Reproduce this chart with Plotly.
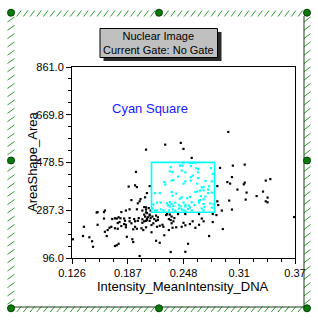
import plotly.graph_objects as go

# ---------------- data ----------------
other_x = [0.297, 0.228, 0.245, 0.207, 0.248, 0.257, 0.288, 0.302, 0.315, 0.301,
           0.296, 0.299, 0.315, 0.314, 0.307, 0.338, 0.343, 0.285, 0.317, 0.335,
           0.328, 0.340, 0.338, 0.340, 0.316, 0.298, 0.286, 0.301, 0.290, 0.284,
           0.280, 0.268, 0.270, 0.265, 0.261, 0.248, 0.250, 0.240, 0.235, 0.236,
           0.291, 0.369, 0.211,
           0.196, 0.188, 0.195, 0.197, 0.206, 0.201, 0.200, 0.191, 0.198, 0.205,
           0.207, 0.203, 0.207, 0.205, 0.207, 0.189, 0.185, 0.180, 0.162, 0.161,
           0.154, 0.153,
           0.127, 0.139, 0.138, 0.145, 0.148, 0.149, 0.154, 0.161, 0.165, 0.162,
           0.167, 0.169, 0.164, 0.170, 0.173, 0.175, 0.177, 0.179, 0.183, 0.184,
           0.176, 0.178, 0.180, 0.183, 0.185, 0.173, 0.176, 0.185, 0.189, 0.191,
           0.189, 0.194, 0.195, 0.199, 0.198, 0.203, 0.205, 0.203, 0.206, 0.208,
           0.207, 0.195, 0.193, 0.197, 0.202, 0.204, 0.207, 0.186, 0.192, 0.193,
           0.177, 0.175, 0.173, 0.200,
           0.209, 0.211, 0.212, 0.214, 0.216, 0.218, 0.220, 0.208, 0.211, 0.218,
           0.220, 0.229, 0.232, 0.234, 0.235, 0.238, 0.237, 0.213, 0.222, 0.225,
           0.226, 0.232, 0.246, 0.255, 0.258, 0.280, 0.213, 0.227, 0.218, 0.222,
           0.253, 0.276, 0.234, 0.250,
           0.208, 0.210, 0.212, 0.208, 0.211, 0.230, 0.233, 0.242, 0.250, 0.265,
           0.285, 0.215, 0.219, 0.197]
other_y = [601, 550, 557, 530, 533, 497, 457, 466, 470, 420,
           400, 394, 398, 391, 370, 406, 412, 384, 358, 362,
           344, 338, 323, 319, 330, 326, 308, 290, 286, 268,
           272, 254, 243, 229, 217, 237, 227, 219, 235, 217,
           212, 260, 384,
           441, 382, 387, 380, 339, 332, 323, 328, 315, 300,
           299, 286, 279, 270, 290, 291, 286, 280, 286, 280,
           280, 278,
           171, 221, 184, 179, 163, 141, 229, 254, 208, 201,
           217, 221, 184, 252, 255, 254, 259, 255, 254, 245,
           236, 240, 224, 232, 229, 215, 213, 219, 243, 235,
           256, 252, 243, 256, 245, 251, 243, 237, 262, 254,
           245, 221, 211, 213, 215, 208, 219, 181, 171, 160,
           153, 147, 144, 104,
           259, 266, 256, 262, 252, 266, 259, 248, 245, 245,
           248, 268, 252, 248, 262, 256, 243, 228, 225, 229,
           221, 208, 221, 232, 243, 240, 199, 187, 165, 157,
           153, 184, 120, 121,
           356, 296, 286, 276, 270, 272, 270, 272, 272, 272,
           323, 235, 221, 291]

gate_x_pts = [0.248, 0.255, 0.258, 0.261, 0.244, 0.247, 0.256, 0.278, 0.264, 0.234,
              0.233, 0.236, 0.246, 0.250, 0.264, 0.262, 0.242, 0.258, 0.235, 0.237,
              0.250, 0.256, 0.263, 0.279, 0.228, 0.268, 0.270, 0.275, 0.261, 0.263,
              0.275, 0.217, 0.222, 0.235, 0.240, 0.236, 0.255, 0.252, 0.267, 0.272,
              0.244, 0.266, 0.270, 0.219, 0.223, 0.230, 0.233, 0.235, 0.239, 0.248,
              0.250, 0.257, 0.265, 0.277, 0.281, 0.215, 0.231, 0.233, 0.243, 0.245,
              0.254, 0.271, 0.214, 0.217, 0.223, 0.226, 0.236, 0.239, 0.243, 0.248,
              0.250, 0.255, 0.257, 0.268, 0.270,
              0.279, 0.260, 0.253, 0.246, 0.279, 0.227, 0.265, 0.270, 0.250, 0.237,
              0.232, 0.219, 0.280, 0.248, 0.272, 0.276, 0.270, 0.266, 0.246, 0.256,
              0.264]
gate_y_pts = [478, 477, 477, 477, 466, 466, 464, 456, 452, 460,
              443, 440, 446, 439, 439, 456, 422, 426, 406, 408,
              403, 406, 394, 403, 390, 379, 380, 370, 360, 362,
              356, 356, 356, 360, 354, 346, 340, 335, 344, 342,
              334, 328, 331, 318, 318, 315, 320, 312, 318, 318,
              308, 319, 318, 315, 312, 310, 307, 302, 308, 303,
              306, 300, 294, 286, 291, 287, 291, 286, 294, 287,
              283, 299, 287, 294, 286,
              298, 308, 292, 291, 358, 400, 325, 312, 302, 304,
              287, 287, 433, 394, 404, 383, 367, 366, 339, 420,
              416]

gate_x = [0.213, 0.282]
gate_y = [279, 479]

x_range = [0.126, 0.37]
y_range = [96.0, 861.0]
x_tickvals = [0.126, 0.187, 0.248, 0.309, 0.37]
x_ticktext = ["0.126", "0.187", "0.248", "0.31", "0.37"]
y_tickvals = [96.0, 287.25, 478.5, 669.75, 861.0]
y_ticktext = ["96.0", "287.3", "478.5", "669.8", "861.0"]

x_title = "Intensity_MeanIntensity_DNA"
y_title = "AreaShape_Area"
box_lines = ["Nuclear Image", "Current Gate: No Gate"]
gate_label = "Cyan Square"

# ---------------- figure ----------------
W, H = 318, 323
L, R, T, B = 72, 23, 67, 65
PW, PH = W - L - R, H - T - B


def P(px, py):
    """pixel position in the page -> paper coordinates"""
    return (px - L) / PW, (H - B - py) / PH


FONT = "Liberation Sans, Arial, sans-serif"

fig = go.Figure()
fig.add_trace(go.Scatter(x=other_x, y=other_y, mode="markers",
                         marker=dict(symbol="square", size=2.2, color="black",
                                     line=dict(width=0)),
                         showlegend=False, hoverinfo="skip"))
fig.add_trace(go.Scatter(x=gate_x_pts, y=gate_y_pts, mode="markers",
                         marker=dict(symbol="square", size=2.2, color="#00ffff",
                                     line=dict(width=0)),
                         showlegend=False, hoverinfo="skip"))

shapes = []
# gate rectangle
shapes.append(dict(type="rect", xref="x", yref="y", x0=gate_x[0], x1=gate_x[1],
                   y0=gate_y[0], y1=gate_y[1], line=dict(color="#00ffff", width=1.6)))

# title box with shadow
sx0, sy0 = P(103.5, 32)
sx1, sy1 = P(221.5, 61)
shapes.append(dict(type="rect", xref="paper", yref="paper", x0=sx0, x1=sx1, y0=sy0, y1=sy1,
                   fillcolor="#2a2a2a", line=dict(width=0), layer="above"))
bx0, by0 = P(100, 28.5)
bx1, by1 = P(217.5, 57.5)
shapes.append(dict(type="rect", xref="paper", yref="paper", x0=bx0, x1=bx1, y0=by0, y1=by1,
                   fillcolor="#c0c0c0", line=dict(color="black", width=1), layer="above"))

# hatched green frame
segs = []
x = 10.0
while x < 303:
    a = P(x, 16.5); b = P(x + 4.5, 10.5)
    segs.append(f"M{a[0]:.4f},{a[1]:.4f}L{b[0]:.4f},{b[1]:.4f}")
    a = P(x, 312); b = P(x + 4.5, 306.5)
    segs.append(f"M{a[0]:.4f},{a[1]:.4f}L{b[0]:.4f},{b[1]:.4f}")
    x += 6.7
y = 17.0
while y < 304:
    a = P(7.5, y + 5); b = P(14.5, y)
    segs.append(f"M{a[0]:.4f},{a[1]:.4f}L{b[0]:.4f},{b[1]:.4f}")
    a = P(304, y + 5); b = P(310.5, y)
    segs.append(f"M{a[0]:.4f},{a[1]:.4f}L{b[0]:.4f},{b[1]:.4f}")
    y += 8.3
shapes.append(dict(type="path", xref="paper", yref="paper", path="".join(segs),
                   line=dict(color="#2f9a2f", width=1)))
# dark inner lines on right/bottom
a = P(304, 16); b = P(304, 307)
shapes.append(dict(type="line", xref="paper", yref="paper", x0=a[0], y0=a[1], x1=b[0], y1=b[1],
                   line=dict(color="#1f3f1f", width=1)))
a = P(14, 307); b = P(304, 307)
shapes.append(dict(type="line", xref="paper", yref="paper", x0=a[0], y0=a[1], x1=b[0], y1=b[1],
                   line=dict(color="#1f3f1f", width=1)))
# handles
for hx in (11, 159, 307):
    for hy in (12.7, 160.5, 308.3):
        if hx == 159 and hy == 160.5:
            continue
        c0 = P(hx - 3.5, hy + 3.5); c1 = P(hx + 3.5, hy - 3.5)
        shapes.append(dict(type="circle", xref="paper", yref="paper",
                           x0=c0[0], y0=c0[1], x1=c1[0], y1=c1[1],
                           fillcolor="#0a7a0a", line=dict(color="#064006", width=1)))

annotations = []
tx, ty = P(158.8, 43)
annotations.append(dict(xref="paper", yref="paper", x=tx, y=ty, text="<br>".join(box_lines),
                        showarrow=False, xanchor="center", yanchor="middle", align="center",
                        font=dict(family=FONT, size=11, color="black")))
gx, gy = P(149.5, 108)
annotations.append(dict(xref="paper", yref="paper", x=gx, y=gy, text=gate_label,
                        showarrow=False, xanchor="center", yanchor="middle",
                        font=dict(family=FONT, size=13, color="#1a1aff")))
ax_, ay_ = P(183, 286)
annotations.append(dict(xref="paper", yref="paper", x=ax_, y=ay_, text=x_title,
                        showarrow=False, xanchor="center", yanchor="middle",
                        font=dict(family=FONT, size=13, color="black")))
yx_, yy_ = P(32, 162)
annotations.append(dict(xref="paper", yref="paper", x=yx_, y=yy_, text=y_title,
                        showarrow=False, xanchor="center", yanchor="middle", textangle=-90,
                        font=dict(family=FONT, size=13, color="black")))

axis_common = dict(showgrid=False, zeroline=False, showline=True, linecolor="black",
                   linewidth=1, mirror=True, ticks="outside", ticklen=5, tickcolor="black",
                   tickwidth=1, tickfont=dict(family=FONT, size=11, color="black"))

fig.update_layout(
    width=W, height=H, margin=dict(l=L, r=R, t=T, b=B, pad=0),
    paper_bgcolor="white", plot_bgcolor="white",
    shapes=shapes, annotations=annotations,
    xaxis=dict(range=x_range, tickmode="array", tickvals=x_tickvals, ticktext=x_ticktext,
               minor=dict(ticks="outside", ticklen=3, tickcolor="black",
                          tick0=x_tickvals[0], dtick=(x_tickvals[1] - x_tickvals[0]) / 4,
                          showgrid=False),
               **axis_common),
    yaxis=dict(range=y_range, tickmode="array", tickvals=y_tickvals, ticktext=y_ticktext,
               minor=dict(ticks="outside", ticklen=3, tickcolor="black",
                          tick0=y_tickvals[0], dtick=(y_tickvals[1] - y_tickvals[0]) / 4,
                          showgrid=False),
               **axis_common),
    showlegend=False,
)

fig.write_html("out.html", config={"displayModeBar": False})
